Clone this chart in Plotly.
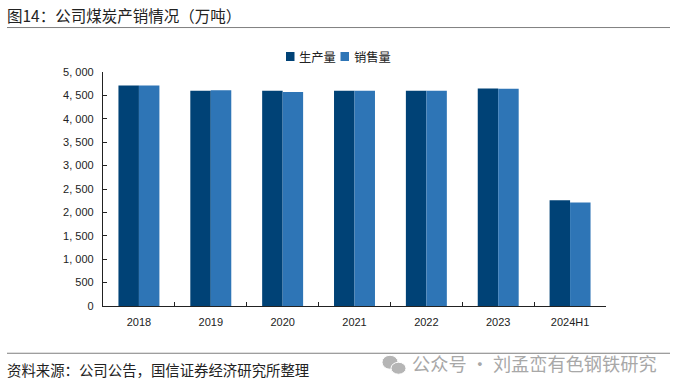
import plotly.graph_objects as go

categories = ["2018", "2019", "2020", "2021", "2022", "2023", "2024H1"]
series_names = ["生产量", "销售量"]
production = [4710, 4600, 4600, 4600, 4600, 4650, 2260]
sales = [4710, 4610, 4575, 4600, 4600, 4640, 2210]
y_ticks = [0, 500, 1000, 1500, 2000, 2500, 3000, 3500, 4000, 4500, 5000]
y_labels = ["0", "500", "1, 000", "1, 500", "2, 000", "2, 500", "3, 000", "3, 500", "4, 000", "4, 500", "5, 000"]
DARK, LIGHT = "#004276", "#2E75B6"

W, H = 679, 391
CJK = "Noto Sans CJK SC"
LAT = "Liberation Sans"

fig = go.Figure()
fig.add_bar(name=series_names[0], x=categories, y=production, marker_color=DARK, marker_line_width=0)
fig.add_bar(name=series_names[1], x=categories, y=sales, marker_color=LIGHT, marker_line_width=0)

L, R, T, B = 103, 606, 71.5, 305.7
fig.update_layout(
    width=W, height=H, barmode="group", bargap=0.43, bargroupgap=0, showlegend=False,
    margin=dict(l=L, r=W - R, t=T, b=H - B, autoexpand=False),
    paper_bgcolor="white", plot_bgcolor="white",
    font=dict(family=f"{LAT}, {CJK}", size=11, color="#222222"),
    xaxis=dict(type="category", tickson="boundaries", ticks="inside", ticklen=4, tickwidth=1,
               tickcolor="#222222", showline=True, linecolor="#222222", linewidth=1.3,
               showgrid=False, tickfont=dict(size=11, family=LAT, color="#222222"), ticklabelstandoff=6),
    yaxis=dict(range=[0, 5000], tickvals=y_ticks, ticktext=y_labels, ticks="inside", ticklen=4,
               tickwidth=1, tickcolor="#222222", showline=True, linecolor="#222222", linewidth=1.3,
               showgrid=False, zeroline=False, tickfont=dict(size=11, family=LAT, color="#222222"),
               ticklabelstandoff=6),
)

def fx(x): return (x - L) / (R - L)
def fy(y): return (B - y) / (B - T)

for y in (27, 353):
    fig.add_shape(type="line", xref="paper", yref="paper", x0=fx(7), x1=fx(670), y0=fy(y), y1=fy(y),
                  line=dict(color="#7f7f7f", width=1))

def note(x, y, text, size, color="#222222", family=CJK):
    fig.add_annotation(xref="paper", yref="paper", x=fx(x), y=fy(y),
                       text=text, showarrow=False, xanchor="left", yanchor="middle",
                       font=dict(family=family, size=size, color=color))

note(5, 14, "图14：公司煤炭产销情况（万吨）", 15.5)
note(5, 369, "资料来源：公司公告，国信证券经济研究所整理", 14.4)
note(410, 363, "公众号 · 刘孟峦有色钢铁研究", 18.2, color="#a8a8a8")

# Compact legend, tighter than the native legend's minimum item width allows
for name, color, x0, x1, tx in zip(series_names, (DARK, LIGHT), (286, 340.5), (294.5, 349), (297, 351.5)):
    fig.add_shape(type="rect", xref="paper", yref="paper", x0=fx(x0), x1=fx(x1), y0=fy(51.5), y1=fy(60.5),
                  fillcolor=color, line_width=0)
    note(tx, 56, name, 12.3)

for x0, x1, y0, y1 in ((382, 398, 355, 369), (391, 406, 362, 374)):
    fig.add_shape(type="circle", xref="paper", yref="paper", x0=fx(x0), x1=fx(x1), y0=fy(y0), y1=fy(y1),
                  fillcolor="#b5b5b5", line=dict(color="white", width=1))

fig.write_html("out.html", config={"displayModeBar": False},
               post_script="document.body.style.margin='0';document.body.style.overflow='hidden';")
